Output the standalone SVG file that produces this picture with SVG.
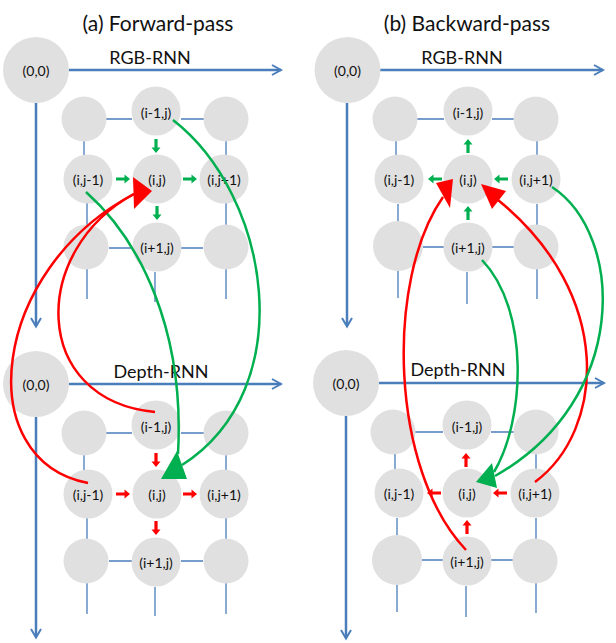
<svg xmlns="http://www.w3.org/2000/svg" xmlns:xlink="http://www.w3.org/1999/xlink" width="616" height="643" viewBox="0 0 616 643">
<style>
  .bg{fill:#ffffff}
  .nd{fill:#e0e0e0}
  .lb{font-family:Lato,"Liberation Sans",sans-serif;font-size:14px;fill:#111;text-anchor:middle;dominant-baseline:central}
  .ttl{font-family:Lato,"Liberation Sans",sans-serif;font-size:21px;fill:#111;text-anchor:middle}
  .ax{font-family:Lato,"Liberation Sans",sans-serif;font-size:18px;fill:#111;text-anchor:middle}
  .axis{stroke:#4a7ebb;stroke-width:2.5;fill:none}
  .head{stroke:#4a7ebb;stroke-width:2;fill:none;stroke-linejoin:miter}
  .grid{stroke:#4a7ebb;stroke-width:1.3;fill:none}
  .gc{stroke:#00b050;stroke-width:2.5;fill:none}
  .rc{stroke:#ff0000;stroke-width:2.5;fill:none}
  .gf{fill:#00b050}
  .rf{fill:#ff0000}
</style>
<defs>
  <path id="sa" d="M0,-1.6 H8.5 V-4.5 L14,0 L8.5,4.5 V1.6 H0 Z"/>
</defs>
<rect class="bg" x="0" y="0" width="616" height="643"/>

<g id="titles">
  <text class="ttl" x="158" y="31">(a) Forward-pass</text>
  <text class="ttl" x="467" y="31">(b) Backward-pass</text>
  <text class="ax" x="150" y="64">RGB-RNN</text>
  <text class="ax" x="462" y="64">RGB-RNN</text>
  <text class="ax" x="161" y="378">Depth-RNN</text>
  <text class="ax" x="458" y="376">Depth-RNN</text>
</g>

<g id="grid-lines">
  <path class="axis" d="M69,70 H281 M36,103 V326"/>
  <path class="head" d="M272,65 L281,70 L272,75 M31,318 L36,326.5 L41,318"/>
  <path class="axis" d="M69,384 H281 M36,417 V637"/>
  <path class="head" d="M272,379 L281,384 L272,389 M31,629 L36,637.5 L41,629"/>
  <path class="axis" d="M380,70 H603 M347,103 V326"/>
  <path class="head" d="M594,65 L603,70 L594,75 M342,318 L347,326.5 L352,318"/>
  <path class="axis" d="M379,383 H604 M346,416 V638"/>
  <path class="head" d="M595,378 L604,383 L595,388 M341,630 L346,638.5 L351,630"/>
  <path class="grid" d="M106,119 H132 M181,119 H204 M84,141 V157 M226,141 V156 M87,203 V225 M226,203 V225 M109,248 H133 M181,248 H203 M87,269 V299 M155,272 V302 M226,269 V299"/>
  <path class="grid" d="M106,433 H132 M181,433 H204 M84,455 V471 M226,455 V471 M87,518 V539 M226,518 V539 M109,561 H132 M181,561 H203 M87,583 V614 M155,587 V616 M226,583 V614"/>
  <path class="grid" d="M417,119 H444 M492,119 H514 M396,141 V156 M537,141 V156 M398,204 V221 M537,204 V225 M423,247 H444 M492,247 H514 M398,271 V298 M467,272 V304 M537,269 V299"/>
  <path class="grid" d="M415,432 H443 M491,432 H514 M395,454 V470 M536,454 V470 M397,518 V535 M536,518 V539 M422,560 H443 M491,560 H513 M397,585 V612 M466,586 V617 M536,583 V613"/>
</g>

<g id="nodes">
  <g id="a-rgb-00"><circle class="nd" cx="36" cy="70" r="33"/><text class="lb" x="36" y="70">(0,0)</text></g>
  <g id="a-rgb-ul"><circle class="nd" cx="84" cy="119" r="22.5"/></g>
  <g id="a-rgb-im1"><circle class="nd" cx="156" cy="111" r="24.5"/><text class="lb" x="156" y="112">(i-1,j)</text></g>
  <g id="a-rgb-ur"><circle class="nd" cx="226" cy="119" r="22.5"/></g>
  <g id="a-rgb-jm1"><circle class="nd" cx="88" cy="179" r="24.5"/><text class="lb" x="88" y="179">(i,j-1)</text></g>
  <g id="a-rgb-ij"><circle class="nd" cx="157" cy="179" r="24.5"/><text class="lb" x="157" y="179">(i,j)</text></g>
  <g id="a-rgb-jp1"><circle class="nd" cx="224" cy="179" r="24.5"/><text class="lb" x="224" y="179">(i,j+1)</text></g>
  <g id="a-rgb-dl"><circle class="nd" cx="86" cy="247" r="22.5"/></g>
  <g id="a-rgb-ip1"><circle class="nd" cx="157" cy="247" r="24.5"/><text class="lb" x="157" y="247">(i+1,j)</text></g>
  <g id="a-rgb-dr"><circle class="nd" cx="226" cy="247" r="22.5"/></g>
  <g id="a-dep-00"><circle class="nd" cx="36" cy="384" r="33"/><text class="lb" x="36" y="384">(0,0)</text></g>
  <g id="a-dep-ul"><circle class="nd" cx="84" cy="433" r="22.5"/></g>
  <g id="a-dep-im1"><circle class="nd" cx="156" cy="425" r="24.5"/><text class="lb" x="156" y="426">(i-1,j)</text></g>
  <g id="a-dep-ur"><circle class="nd" cx="226" cy="433" r="22.5"/></g>
  <g id="a-dep-jm1"><circle class="nd" cx="88" cy="494" r="24.5"/><text class="lb" x="88" y="494">(i,j-1)</text></g>
  <g id="a-dep-ij"><circle class="nd" cx="157" cy="494" r="24.5"/><text class="lb" x="157" y="494">(i,j)</text></g>
  <g id="a-dep-jp1"><circle class="nd" cx="224" cy="494" r="24.5"/><text class="lb" x="224" y="494">(i,j+1)</text></g>
  <g id="a-dep-dl"><circle class="nd" cx="86" cy="561" r="22.5"/></g>
  <g id="a-dep-ip1"><circle class="nd" cx="156" cy="562" r="24.5"/><text class="lb" x="156" y="562">(i+1,j)</text></g>
  <g id="a-dep-dr"><circle class="nd" cx="226" cy="561" r="22.5"/></g>
  <g id="b-rgb-00"><circle class="nd" cx="347.5" cy="70" r="33"/><text class="lb" x="347.5" y="70">(0,0)</text></g>
  <g id="b-rgb-ul"><circle class="nd" cx="395" cy="119" r="22.5"/></g>
  <g id="b-rgb-im1"><circle class="nd" cx="468" cy="111" r="24.5"/><text class="lb" x="468" y="112">(i-1,j)</text></g>
  <g id="b-rgb-ur"><circle class="nd" cx="536" cy="119" r="22.5"/></g>
  <g id="b-rgb-jm1"><circle class="nd" cx="399" cy="179" r="24.5"/><text class="lb" x="399" y="179">(i,j-1)</text></g>
  <g id="b-rgb-ij"><circle class="nd" cx="468" cy="179" r="24.5"/><text class="lb" x="468" y="179">(i,j)</text></g>
  <g id="b-rgb-jp1"><circle class="nd" cx="536" cy="179" r="24.5"/><text class="lb" x="536" y="179">(i,j+1)</text></g>
  <g id="b-rgb-dl"><circle class="nd" cx="398" cy="246" r="25"/></g>
  <g id="b-rgb-ip1"><circle class="nd" cx="468" cy="247" r="24.5"/><text class="lb" x="468" y="247">(i+1,j)</text></g>
  <g id="b-rgb-dr"><circle class="nd" cx="536" cy="247" r="22.5"/></g>
  <g id="b-dep-00"><circle class="nd" cx="346" cy="383" r="33"/><text class="lb" x="346" y="383">(0,0)</text></g>
  <g id="b-dep-ul"><circle class="nd" cx="393" cy="432" r="22.5"/></g>
  <g id="b-dep-im1"><circle class="nd" cx="467" cy="425" r="24.5"/><text class="lb" x="467" y="426">(i-1,j)</text></g>
  <g id="b-dep-ur"><circle class="nd" cx="536" cy="432" r="22.5"/></g>
  <g id="b-dep-jm1"><circle class="nd" cx="399" cy="493" r="24.5"/><text class="lb" x="399" y="493">(i,j-1)</text></g>
  <g id="b-dep-ij"><circle class="nd" cx="467" cy="493" r="24.5"/><text class="lb" x="467" y="493">(i,j)</text></g>
  <g id="b-dep-jp1"><circle class="nd" cx="535" cy="493" r="24.5"/><text class="lb" x="535" y="493">(i,j+1)</text></g>
  <g id="b-dep-dl"><circle class="nd" cx="397" cy="560" r="25"/></g>
  <g id="b-dep-ip1"><circle class="nd" cx="467" cy="561" r="24.5"/><text class="lb" x="467" y="561">(i+1,j)</text></g>
  <g id="b-dep-dr"><circle class="nd" cx="535" cy="561" r="22.5"/></g>
</g>

<g id="connectors">
  <use href="#sa" class="gf" transform="translate(156,139) rotate(90)"/>
  <use href="#sa" class="gf" transform="translate(116,179)"/>
  <use href="#sa" class="gf" transform="translate(183,179)"/>
  <use href="#sa" class="gf" transform="translate(157,206) rotate(90)"/>
  <use href="#sa" class="rf" transform="translate(156,453) rotate(90)"/>
  <use href="#sa" class="rf" transform="translate(116,494)"/>
  <use href="#sa" class="rf" transform="translate(183,494)"/>
  <use href="#sa" class="rf" transform="translate(156,521) rotate(90)"/>
  <use href="#sa" class="gf" transform="translate(468,153) rotate(-90)"/>
  <use href="#sa" class="gf" transform="translate(442,179) rotate(180)"/>
  <use href="#sa" class="gf" transform="translate(508,179) rotate(180)"/>
  <use href="#sa" class="gf" transform="translate(468,220) rotate(-90)"/>
  <use href="#sa" class="rf" transform="translate(466,467) rotate(-90)"/>
  <use href="#sa" class="rf" transform="translate(441,493) rotate(180)"/>
  <use href="#sa" class="rf" transform="translate(507,493) rotate(180)"/>
  <use href="#sa" class="rf" transform="translate(467,534) rotate(-90)"/>

  <path class="gc" d="M86,192 C140,240 185,330 178,454"/>
  <path class="gc" d="M173,120 C270,195 302,388 182,465"/>
  <polygon class="gf" points="161,479 177,451 187,479"/>
  <path class="rc" d="M155,412 C30,400 30,250 134,194"/>
  <path class="rc" d="M88,483 C-30,460 -10,270 134,194"/>
  <polygon class="rf" points="152,191 133,177 134,209"/>

  <path class="rc" d="M466,550 C390,470 385,280 443,197"/>
  <polygon class="rf" points="453,179 436,183 450,208"/>
  <path class="rc" d="M535,482 C605,430 615,295 498,200"/>
  <polygon class="rf" points="481,184 506,191 492,209"/>
  <path class="gc" d="M482,260 C530,310 525,420 494,472"/>
  <path class="gc" d="M552,187 C625,235 630,400 495,476"/>
  <polygon class="gf" points="476,482 492,463 497,488"/>
</g>
</svg>
